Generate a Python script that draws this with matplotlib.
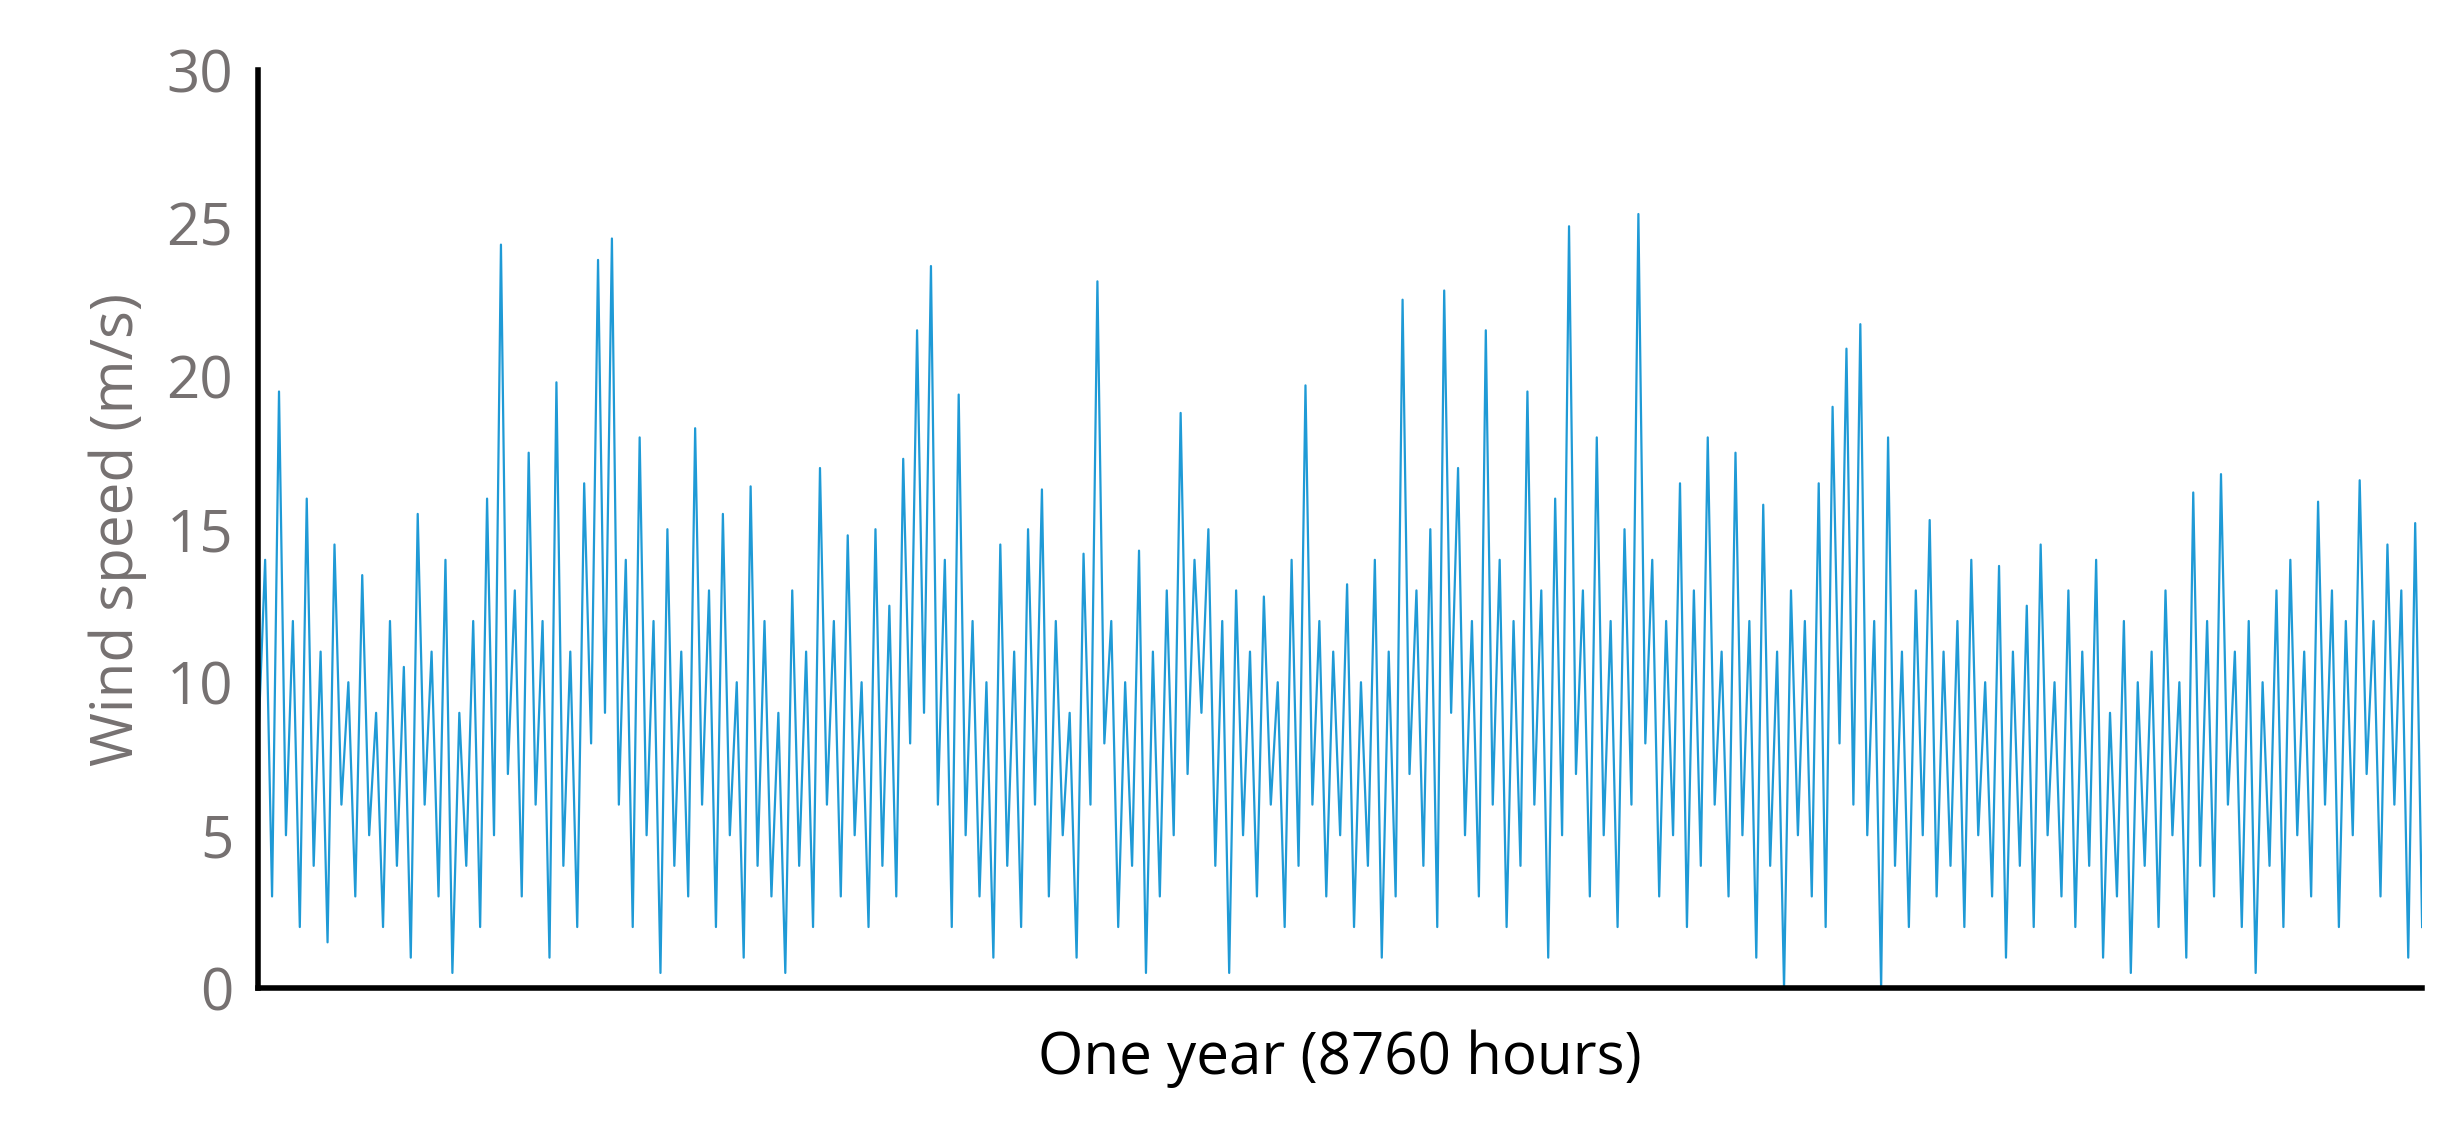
"""
Hourly wind speed over one year (hand-read approximation of the reference trace)
"""

import numpy as np
import matplotlib.pyplot as plt

# Values read left to right off the reference, alternating peaks and troughs
wind_speed = [
    8, 14, 3, 19.5, 5, 12, 2, 16, 4, 11, 1.5, 14.5, 6, 10, 3, 13.5, 5, 9, 2, 12,
    4, 10.5, 1, 15.5, 6, 11, 3, 14, 0.5, 9, 4, 12, 2, 16, 5, 24.3, 7, 13, 3, 17.5,
    6, 12, 1, 19.8, 4, 11, 2, 16.5, 8, 23.8, 9, 24.5, 6, 14, 2, 18, 5, 12, 0.5, 15,
    4, 11, 3, 18.3, 6, 13, 2, 15.5, 5, 10, 1, 16.4, 4, 12, 3, 9, 0.5, 13, 4, 11,
    2, 17, 6, 12, 3, 14.8, 5, 10, 2, 15, 4, 12.5, 3, 17.3, 8, 21.5, 9, 23.6, 6, 14,
    2, 19.4, 5, 12, 3, 10, 1, 14.5, 4, 11, 2, 15, 6, 16.3, 3, 12, 5, 9, 1, 14.2,
    6, 23.1, 8, 12, 2, 10, 4, 14.3, 0.5, 11, 3, 13, 5, 18.8, 7, 14, 9, 15, 4, 12,
    0.5, 13, 5, 11, 3, 12.8, 6, 10, 2, 14, 4, 19.7, 6, 12, 3, 11, 5, 13.2, 2, 10,
    4, 14, 1, 11, 3, 22.5, 7, 13, 4, 15, 2, 22.8, 9, 17, 5, 12, 3, 21.5, 6, 14,
    2, 12, 4, 19.5, 6, 13, 1, 16, 5, 24.9, 7, 13, 3, 18, 5, 12, 2, 15, 6, 25.3,
    8, 14, 3, 12, 5, 16.5, 2, 13, 4, 18, 6, 11, 3, 17.5, 5, 12, 1, 15.8, 4, 11,
    0, 13, 5, 12, 3, 16.5, 2, 19, 8, 20.9, 6, 21.7, 5, 12, 0, 18, 4, 11, 2, 13,
    5, 15.3, 3, 11, 4, 12, 2, 14, 5, 10, 3, 13.8, 1, 11, 4, 12.5, 2, 14.5, 5, 10,
    3, 13, 2, 11, 4, 14, 1, 9, 3, 12, 0.5, 10, 4, 11, 2, 13, 5, 10, 1, 16.2,
    4, 12, 3, 16.8, 6, 11, 2, 12, 0.5, 10, 4, 13, 2, 14, 5, 11, 3, 15.9, 6, 13,
    2, 12, 5, 16.6, 7, 12, 3, 14.5, 6, 13, 1, 15.2, 2,
]
hours = np.arange(len(wind_speed)) * 8760 / (len(wind_speed) - 1)

fig = plt.figure(figsize=(24.59, 11.32), dpi=100)
ax = fig.add_axes([0.105, 0.127, 0.88, 0.811])
ax.plot(hours, wind_speed, color='#1f9ad6', linewidth=1.6)

ax.set_xlim(0, 8760)
ax.set_ylim(0, 30)
ax.set_yticks(range(0, 31, 5))
ax.set_xticks([])
for side in ['top', 'right']:
    ax.spines[side].set_visible(False)
for side in ['left', 'bottom']:
    ax.spines[side].set_linewidth(4)
ax.tick_params(axis='y', length=0, labelsize=42, labelcolor='#767171', pad=18)
ax.set_ylabel('Wind speed (m/s)', fontsize=42, color='#767171', labelpad=14)
ax.set_xlabel('One year (8760 hours)', fontsize=42, color='black', labelpad=30)
for t in ax.get_yticklabels() + [ax.yaxis.label, ax.xaxis.label]:
    t.set_family(['Open Sans', 'DejaVu Sans'])

plt.savefig('out.png', dpi=100)
